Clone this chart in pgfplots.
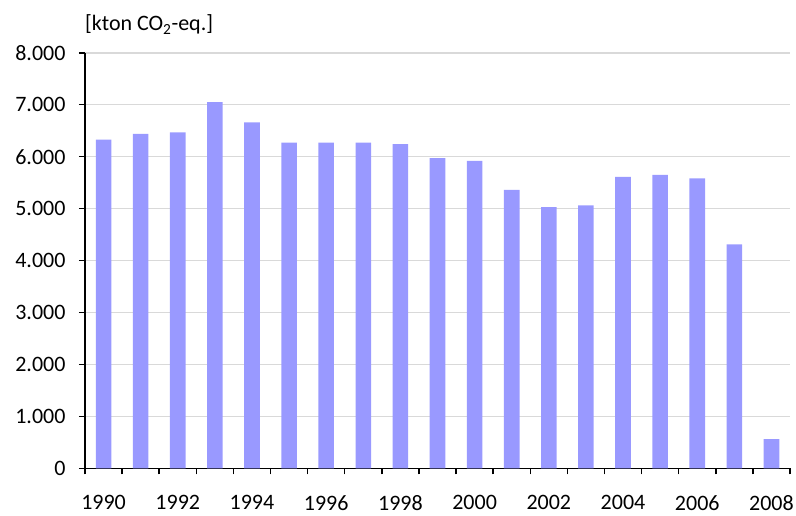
\documentclass[border=0pt]{standalone}
\usepackage{pgfplots}
\pgfplotsset{compat=1.18}
\usepackage{fontspec}
\setmainfont{Carlito}
\definecolor{barc}{HTML}{9999FF}
\definecolor{gridc}{HTML}{D9D9D9}
\newcommand\fs{\fontsize{22bp}{26bp}\selectfont}
\begin{document}
\begin{tikzpicture}[x=1bp,y=1bp]
\path[use as bounding box] (-85,-47.5) rectangle (711,468.3);
\begin{axis}[
  at={(0,0)}, anchor=south west,
  scale only axis, width=705bp, height=415.5bp,
  clip=false,
  xmin=-0.5, xmax=18.5, ymin=0, ymax=8000,
  axis x line*=bottom, axis y line*=left,
  axis line style={black, line width=1.5bp},
  ybar, bar width=0.42,
  ytick={0,1000,...,8000},
  ymajorgrids, grid style={gridc, line width=1.5bp},
  tick align=outside, major tick length=6bp,
  tick style={black, line width=1.5bp},
  xtick={-0.5,0.5,...,18.5}, xticklabels={},
  extra x ticks={0,2,...,18},
  extra x tick labels={1990,1992,1994,1996,1998,2000,2002,2004,2006,2008},
  extra x tick style={major tick length=0pt, xticklabel style={inner sep=0pt, yshift=-27bp}},
  ticklabel style={font=\fs},
  yticklabel style={xshift=-10bp},
  /pgf/number format/.cd, 1000 sep={.}, assume math mode=true,
]
\addplot[fill=barc, draw=none] coordinates {
(0,6330) (1,6440) (2,6470) (3,7050) (4,6660) (5,6270) (6,6270) (7,6270)
(8,6240) (9,5970) (10,5920) (11,5360) (12,5030) (13,5060) (14,5610)
(15,5650) (16,5580) (17,4310) (18,560)};
\node[anchor=west, inner sep=0pt, font=\fs] at (rel axis cs:0,1) [yshift=28bp] {[kton CO\textsubscript{2}-eq.]};
\end{axis}
\end{tikzpicture}
\end{document}
